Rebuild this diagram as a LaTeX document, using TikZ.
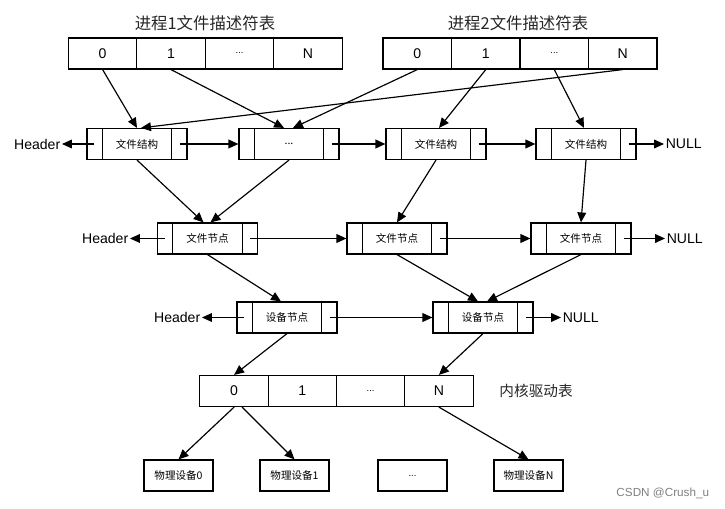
\documentclass[tikz,border=0pt]{standalone}
\usepackage{fontspec}
\setmainfont{Liberation Sans}
\newfontfamily\cjk{Noto Sans CJK SC}
\usetikzlibrary{calc, positioning, arrows.meta}

% list element with two side compartments
\newcommand{\listbox}[4]{%
    \node[lbox] (#1) at (#2) {#4};
    \draw ($(#1.north west)+(#3,0)$) -- ($(#1.south west)+(#3,0)$);
    \draw ($(#1.north east)+(-#3,0)$) -- ($(#1.south east)+(-#3,0)$);
}

\begin{document}
\begin{tikzpicture}[
    x=0.03cm, y=-0.03cm,
    >={Triangle[length=8.5pt, width=7.5pt]},
    line width=1pt,
    font=\small,
    cell/.style={draw, minimum width=2.055cm, minimum height=0.93cm, inner sep=0pt, font=\fontsize{12}{14}\selectfont},
    lbox/.style={draw, minimum width=3cm, minimum height=0.93cm, inner sep=0pt, font=\cjk\fontsize{9}{11}\selectfont},
    dev/.style={draw, minimum width=2.07cm, minimum height=0.93cm, inner sep=0pt, font=\cjk\fontsize{9}{11}\selectfont},
    lbl/.style={inner sep=1pt, font=\fontsize{12}{14}\selectfont},
    title/.style={text=black!85, font=\cjk\fontsize{14}{16}\selectfont}
]
    \useasboundingbox (0,0) rectangle (725,509);

    % Descriptor tables
    \node[title] (tt1) at (205,23) {进程1文件描述符表};
    \node[title] (tt2) at (518,23) {进程2文件描述符表};

    \node[cell] (t1c0) at (102.6,53.5) {0};
    \node[cell] (t1c1) at (171,53.5) {1};
    \node[cell, font=\footnotesize] (t1cd) at (239.6,53.5) {...};
    \node[cell] (t1cN) at (308,53.5) {N};

    \node[cell] (t2c0) at (417.3,53.5) {0};
    \node[cell] (t2c1) at (485.8,53.5) {1};
    \node[cell, font=\footnotesize] (t2cd) at (554.3,53.5) {...};
    \node[cell] (t2cN) at (622.8,53.5) {N};

    % File structures
    \listbox{r1a}{137,144}{16}{文件结构}
    \listbox{r1b}{289,144}{16}{...}
    \listbox{r1c}{436,144}{16}{文件结构}
    \listbox{r1d}{586,144}{16}{文件结构}

    \node[lbl, anchor=east] (hd1) at (62,144) {Header};
    \node[lbl, anchor=west] (nl1) at (664,144) {NULL};

    \draw[->] ($(r1a.west)+(8,0)$) -- (hd1.east);
    \draw[->] ($(r1a.east)+(-8,0)$) -- (r1b.west);
    \draw[->] ($(r1b.east)+(-8,0)$) -- (r1c.west);
    \draw[->] ($(r1c.east)+(-8,0)$) -- (r1d.west);
    \draw[->] ($(r1d.east)+(-8,0)$) -- (nl1.west);

    \draw[->] (t1c0.south) -- (r1a.north);
    \draw[->] (t1c1.south) -- ($(r1b.north)+(-5,0)$);
    \draw[->] (t2c0.south) -- ($(r1b.north)+(4,0)$);
    \draw[->] (t2cN.south) -- ($(r1a.north)+(4,0)$);
    \draw[->] (t2c1.south) -- ($(r1c.north)+(3,0)$);
    \draw[->] (t2cd.south) -- ($(r1d.north)+(-2,0)$);

    % File nodes
    \listbox{r2a}{207.5,238.5}{16}{文件节点}
    \listbox{r2b}{397,238.5}{16}{文件节点}
    \listbox{r2c}{581,238.5}{16}{文件节点}

    \node[lbl, anchor=east] (hd2) at (130,238.5) {Header};
    \node[lbl, anchor=west] (nl2) at (665,238.5) {NULL};

    \draw[->] ($(r2a.west)+(8,0)$) -- (hd2.east);
    \draw[->] ($(r2a.east)+(-8,0)$) -- (r2b.west);
    \draw[->] ($(r2b.east)+(-8,0)$) -- (r2c.west);
    \draw[->] ($(r2c.east)+(-8,0)$) -- (nl2.west);

    \draw[->] (r1a.south) -- ($(r2a.north)+(-4,0)$);
    \draw[->] (r1b.south) -- ($(r2a.north)+(3,0)$);
    \draw[->] (r1c.south) -- (r2b.north);
    \draw[->] (r1d.south) -- (r2c.north);

    % Device nodes
    \listbox{r3a}{287,317.5}{16}{设备节点}
    \listbox{r3b}{483,317.5}{16}{设备节点}

    \node[lbl, anchor=east] (hd3) at (202,317.5) {Header};
    \node[lbl, anchor=west] (nl3) at (561,317.5) {NULL};

    \draw[->] ($(r3a.west)+(8,0)$) -- (hd3.east);
    \draw[->] ($(r3a.east)+(-8,0)$) -- (r3b.west);
    \draw[->] ($(r3b.east)+(-8,0)$) -- (nl3.west);

    \draw[->] (r2a.south) -- ($(r3a.north)+(-6,0)$);
    \draw[->] (r2b.south) -- ($(r3b.north)+(-5,0)$);
    \draw[->] (r2c.south) -- ($(r3b.north)+(4,0)$);

    % Kernel driver table
    \node[cell] (kc0) at (234.1,391) {0};
    \node[cell] (kc1) at (302.4,391) {1};
    \node[cell, font=\footnotesize] (kcd) at (370.6,391) {...};
    \node[cell] (kcN) at (438.9,391) {N};
    \node[title, anchor=west, font=\cjk\fontsize{12.5}{14}\selectfont] (kt) at (495,391) {内核驱动表};

    \draw[->] (r3a.south) -- (kc0.north);
    \draw[->] (r3b.south) -- (kcN.north);

    % Physical devices
    \node[dev] (dv0) at (178.5,475.5) {物理设备0};
    \node[dev] (dv1) at (294.5,475.5) {物理设备1};
    \node[dev, font=\footnotesize] (dvd) at (412.5,475.5) {...};
    \node[dev] (dvN) at (528.5,475.5) {物理设备N};

    \draw[->] (kc0.south) -- (dv0.north);
    \draw[->] ($(kc0.south)+(8,0)$) -- (dv1.north);
    \draw[->] (kcN.south) -- (dvN.north);

    \node[anchor=west, text=gray, font=\fontsize{10}{12}\selectfont] (wm) at (612,493) {CSDN @Crush\_u};

\end{tikzpicture}
\end{document}
